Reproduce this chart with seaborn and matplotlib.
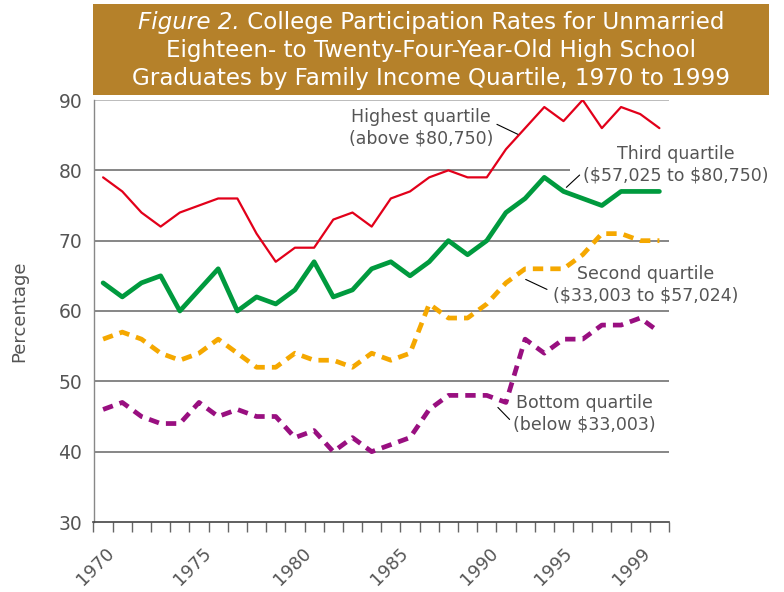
import numpy as np
import pandas as pd
import matplotlib
matplotlib.use("Agg")
import matplotlib.pyplot as plt
from matplotlib.patches import Rectangle
import seaborn as sns

# Data
years = list(range(1970, 2000))
highest = [79, 77, 74, 72, 74, 75, 76, 76, 71, 67,
           69, 69, 73, 74, 72, 76, 77, 79, 80, 79,
           79, 83, 86, 89, 87, 90, 86, 89, 88, 86]
third = [64, 62, 64, 65, 60, 63, 66, 60, 62, 61,
         63, 67, 62, 63, 66, 67, 65, 67, 70, 68,
         70, 74, 76, 79, 77, 76, 75, 77, 77, 77]
second = [56, 57, 56, 54, 53, 54, 56, 54, 52, 52,
          54, 53, 53, 52, 54, 53, 54, 61, 59, 59,
          61, 64, 66, 66, 66, 68, 71, 71, 70, 70]
bottom = [46, 47, 45, 44, 44, 47, 45, 46, 45, 45,
          42, 43, 40, 42, 40, 41, 42, 46, 48, 48,
          48, 47, 56, 54, 56, 56, 58, 58, 59, 57]

tick_years = [1970, 1975, 1980, 1985, 1990, 1995, 1999]
y_ticks = [30, 40, 50, 60, 70, 80, 90]

labels = ["Highest quartile\n(above \\$80,750)",
          "Third quartile\n(\\$57,025 to \\$80,750)",
          "Second quartile\n(\\$33,003 to \\$57,024)",
          "Bottom quartile\n(below \\$33,003)"]

sns.set_style("white")
plt.rcParams["font.family"] = ["DejaVu Sans"]

GRAY = "#555555"

df = pd.DataFrame({"year": years, "highest": highest, "third": third,
                   "second": second, "bottom": bottom})

fig = plt.figure(figsize=(7.84, 5.92), dpi=100)
ax = fig.add_axes([93.5 / 784, 1 - 522 / 592, (669 - 93.5) / 784, (522 - 100) / 592])

# grid lines
for v in y_ticks[1:]:
    ax.axhline(v, color="#aaaaaa" if v == 90 else "#666666", lw=1.1, zorder=1)

# series
styles = {
    "highest": dict(color="#e2001a", lw=1.6, ls="-"),
    "third": dict(color="#009a3e", lw=3.4, ls="-"),
    "second": dict(color="#f5a800", lw=3.4, ls=(0, (2.2, 1.5))),
    "bottom": dict(color="#990f80", lw=3.4, ls=(0, (2.2, 1.5))),
}
for name, st in styles.items():
    sns.lineplot(data=df, x="year", y=name, ax=ax, color=st["color"],
                 linewidth=st["lw"], linestyle=st["ls"], zorder=3)

ax.set_xlim(1969.5, 1999.5)
ax.set_ylim(30, 90)

# y axis
ax.set_yticks(y_ticks)
ax.tick_params(axis="y", length=0, pad=8, labelsize=13.5, labelcolor=GRAY)
ax.set_ylabel("Percentage", fontsize=13, color=GRAY, labelpad=22)

# x axis: ticks between years, labels rotated
ax.set_xticks(np.arange(1969.5, 2000, 1), minor=True)
ax.tick_params(axis="x", which="minor", bottom=True, length=7.2, width=1,
               color="#666666", direction="out")
nudge = [0.1, 0.15, 0.35, 0.45, 0.1, -1.05, -0.95]
ax.set_xticks([y + n for y, n in zip(tick_years, nudge)])
ax.set_xticklabels([str(y) for y in tick_years], rotation=45, ha="right", va="top",
                   rotation_mode="anchor", fontsize=12.8, color=GRAY)
ax.tick_params(axis="x", which="major", length=0, pad=16)
ax.set_xlabel("")

for s in ["top", "right"]:
    ax.spines[s].set_visible(False)
ax.spines["left"].set_color("#888888")
ax.spines["left"].set_linewidth(1)
ax.spines["bottom"].set_color("#444444")
ax.spines["bottom"].set_linewidth(1.2)

# annotations
ann = [
    ((1986.56, 86.0), (1990.53, 86.54), (1991.62, 85.12), False),
    ((1999.84, 80.83), (1994.15, 77.58), (1994.84, 79.33), True),
    ((1998.28, 63.76), (1992.03, 64.49), (1993.14, 63.07), False),
    ((1995.1, 45.33), (1990.58, 46.29), (1991.19, 44.58), False),
]
for lab, (tp, p0, p1, knock) in zip(labels, ann):
    box = dict(facecolor="white", edgecolor="none", pad=9) if knock else None
    ax.text(tp[0], tp[1], lab, ha="center", va="center", fontsize=12.5,
            color=GRAY, linespacing=1.25, clip_on=False, zorder=2, bbox=box)
    ax.annotate("", xy=p1, xytext=p0,
                arrowprops=dict(arrowstyle="-", color="black", lw=0.8,
                                shrinkA=0, shrinkB=0))

# title banner
fig.patches.append(Rectangle((93 / 784, 1 - 95 / 592), (769 - 93) / 784, 91 / 592,
                             transform=fig.transFigure, facecolor="#b5812a",
                             edgecolor="none", zorder=0))
cx = 431 / 784
tsize = 16.6
renderer = fig.canvas.get_renderer()
t1 = fig.text(0, 1 - 22 / 592, "Figure 2.", fontsize=tsize, style="italic",
              color="white", ha="left", va="center")
t2 = fig.text(0, 1 - 22 / 592, " College Participation Rates for Unmarried",
              fontsize=tsize, color="white", ha="left", va="center")
w1 = t1.get_window_extent(renderer).width
w2 = t2.get_window_extent(renderer).width
x0 = cx * 784 - (w1 + w2) / 2
t1.set_x(x0 / 784)
t2.set_x((x0 + w1) / 784)
fig.text(cx, 1 - 50 / 592, "Eighteen- to Twenty-Four-Year-Old High School",
         fontsize=tsize, color="white", ha="center", va="center")
fig.text(cx, 1 - 78.5 / 592, "Graduates by Family Income Quartile, 1970 to 1999",
         fontsize=tsize, color="white", ha="center", va="center")

fig.savefig("out.png", dpi=100)
